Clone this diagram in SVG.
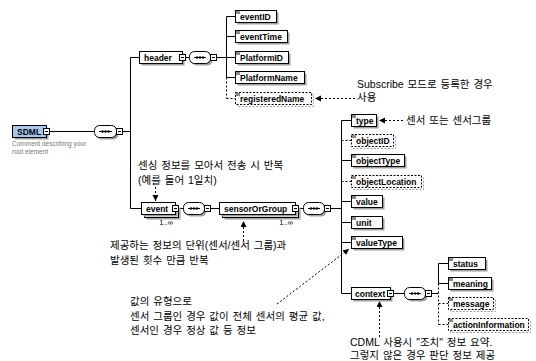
<svg xmlns="http://www.w3.org/2000/svg" width="536" height="361" viewBox="0 0 536 361">
<defs>
<marker id="ah" markerUnits="userSpaceOnUse" markerWidth="7" markerHeight="7" refX="6" refY="3" orient="auto"><path d="M0,0 L6,3 L0,6 z" fill="#000"/></marker>
<style>
.ln{stroke:#000;stroke-width:1;fill:none}
.dl{stroke:#000;stroke-width:1;fill:none;stroke-dasharray:2,2}
.an{stroke:#000;stroke-width:1;fill:none;stroke-dasharray:2,2;marker-end:url(#ah)}
.box{fill:#fff;stroke:#000;stroke-width:1}
.root{fill:#a8c8f0;stroke:#000;stroke-width:1}
.obox{fill:#fff;stroke:#000;stroke-width:1;stroke-dasharray:2,1.5}
.sh{fill:#a0a0a0}
.osh{fill:none;stroke:#a0a0a0;stroke-width:1;stroke-dasharray:2,1.5}
.ic{fill:#8a8a8a}
.lb{font-family:"Liberation Sans",Arial,sans-serif;font-weight:bold;font-size:8.5px;fill:#000}
.kt{font-family:"Liberation Sans","Noto Sans CJK KR",sans-serif;font-size:10.5px;word-spacing:1px;fill:#000}
.occ{font-family:"Liberation Sans",Arial,sans-serif;font-size:7.5px;fill:#000}
.cm{font-family:"Liberation Sans",Arial,sans-serif;font-size:6.5px;fill:#777}
</style>
</defs>

<g id="connectors">
<line class="ln" x1="49.5" y1="131.5" x2="94.5" y2="131.5"/>
<line class="ln" x1="122.5" y1="131.5" x2="130.5" y2="131.5"/>
<line class="ln" x1="130.5" y1="57.5" x2="130.5" y2="208.5"/>
<line class="ln" x1="130.5" y1="57.5" x2="139.5" y2="57.5"/>
<line class="ln" x1="130.5" y1="208.5" x2="141.5" y2="208.5"/>
<line class="ln" x1="185.5" y1="57.5" x2="189.5" y2="57.5"/>
<line class="ln" x1="216.5" y1="57.5" x2="226.5" y2="57.5"/>
<line class="ln" x1="226.5" y1="16.5" x2="226.5" y2="77.5"/>
<line class="dl" x1="226.5" y1="77.5" x2="226.5" y2="98.5"/>
<line class="ln" x1="226.5" y1="16.5" x2="235.5" y2="16.5"/>
<line class="ln" x1="226.5" y1="36.5" x2="235.5" y2="36.5"/>
<line class="ln" x1="226.5" y1="57.5" x2="235.5" y2="57.5"/>
<line class="ln" x1="226.5" y1="77.5" x2="235.5" y2="77.5"/>
<line class="dl" x1="226.5" y1="98.5" x2="235.5" y2="98.5"/>
<line class="ln" x1="178.5" y1="208.5" x2="183.5" y2="208.5"/>
<line class="ln" x1="210.5" y1="208.5" x2="219.5" y2="208.5"/>
<line class="ln" x1="298.5" y1="208.5" x2="303.5" y2="208.5"/>
<line class="ln" x1="330.5" y1="208.5" x2="341.5" y2="208.5"/>
<line class="ln" x1="341.5" y1="120.5" x2="341.5" y2="293.5"/>
<line class="ln" x1="341.5" y1="120.5" x2="351.5" y2="120.5"/>
<line class="dl" x1="341.5" y1="140.5" x2="351.5" y2="140.5"/>
<line class="ln" x1="341.5" y1="160.5" x2="351.5" y2="160.5"/>
<line class="dl" x1="341.5" y1="181.5" x2="351.5" y2="181.5"/>
<line class="ln" x1="341.5" y1="201.5" x2="351.5" y2="201.5"/>
<line class="ln" x1="341.5" y1="222.5" x2="351.5" y2="222.5"/>
<line class="ln" x1="341.5" y1="242.5" x2="351.5" y2="242.5"/>
<line class="ln" x1="341.5" y1="293.5" x2="351.5" y2="293.5"/>
<line class="ln" x1="393.5" y1="293.5" x2="404.5" y2="293.5"/>
<line class="ln" x1="431.5" y1="293.5" x2="438.5" y2="293.5"/>
<line class="ln" x1="438.5" y1="263.5" x2="438.5" y2="283.5"/>
<line class="dl" x1="438.5" y1="283.5" x2="438.5" y2="324.5"/>
<line class="ln" x1="438.5" y1="263.5" x2="448.5" y2="263.5"/>
<line class="ln" x1="438.5" y1="283.5" x2="448.5" y2="283.5"/>
<line class="dl" x1="438.5" y1="303.5" x2="448.5" y2="303.5"/>
<line class="dl" x1="438.5" y1="324.5" x2="448.5" y2="324.5"/>
<line class="an" x1="355" y1="98.5" x2="315" y2="98.5"/>
<line class="an" x1="403" y1="120.5" x2="379" y2="120.5"/>
<line class="an" x1="155.5" y1="187" x2="155.5" y2="201"/>
<line class="an" x1="243.5" y1="241" x2="243.5" y2="221"/>
<line class="an" x1="277" y1="304" x2="349" y2="249"/>
<line class="an" x1="379.5" y1="337" x2="379.5" y2="301"/>
</g>

<g id="SDML">
<rect class="sh" x="14.5" y="127.5" width="34" height="12"/>
<rect class="root" x="12.5" y="125.5" width="34" height="12"/>
<text class="lb" x="17" y="135">SDML</text>
<rect class="box" x="43.5" y="128.5" width="6" height="6"/><line class="ln" x1="45" y1="131.5" x2="48" y2="131.5"/>
<text class="cm" x="12" y="146">Comment describing your</text>
<text class="cm" x="12" y="154">root element</text>
</g>

<g id="seq-root">
<rect class="sh" x="96.5" y="127.5" width="22" height="12" rx="5"/>
<rect class="box" x="94.5" y="125.5" width="22" height="12" rx="5"/>
<line class="ln" x1="99" y1="131.5" x2="112" y2="131.5"/>
<circle cx="102.5" cy="131.5" r="1.2"/><circle cx="105.5" cy="131.5" r="1.2"/><circle cx="108.5" cy="131.5" r="1.2"/>
<rect class="box" x="116.5" y="128.5" width="6" height="6"/><line class="ln" x1="118" y1="131.5" x2="121" y2="131.5"/>
</g>

<g id="header">
<rect class="sh" x="141.5" y="53.5" width="43" height="12"/>
<rect class="box" x="139.5" y="51.5" width="43" height="12"/>
<text class="lb" x="144" y="61">header</text>
<rect class="box" x="179.5" y="54.5" width="6" height="6"/><line class="ln" x1="181" y1="57.5" x2="184" y2="57.5"/>
</g>

<g id="seq-header">
<rect class="sh" x="191.5" y="53.5" width="21" height="12" rx="5"/>
<rect class="box" x="189.5" y="51.5" width="21" height="12" rx="5"/>
<line class="ln" x1="194" y1="57.5" x2="206" y2="57.5"/>
<circle cx="197" cy="57.5" r="1.2"/><circle cx="200" cy="57.5" r="1.2"/><circle cx="203" cy="57.5" r="1.2"/>
<rect class="box" x="210.5" y="54.5" width="6" height="6"/><line class="ln" x1="212" y1="57.5" x2="215" y2="57.5"/>
</g>

<g id="eventID">
<rect class="sh" x="237.5" y="12.5" width="41" height="12"/>
<rect class="box" x="235.5" y="10.5" width="41" height="12"/>
<rect class="ic" x="236" y="11" width="4" height="3"/>
<text class="lb" x="240" y="20">eventID</text>
</g>
<g id="eventTime">
<rect class="sh" x="237.5" y="32.5" width="52" height="12"/>
<rect class="box" x="235.5" y="30.5" width="52" height="12"/>
<rect class="ic" x="236" y="31" width="4" height="3"/>
<text class="lb" x="240" y="40">eventTime</text>
</g>
<g id="PlatformID">
<rect class="sh" x="237.5" y="53.5" width="53" height="12"/>
<rect class="box" x="235.5" y="51.5" width="53" height="12"/>
<rect class="ic" x="236" y="52" width="4" height="3"/>
<text class="lb" x="240" y="61">PlatformID</text>
</g>
<g id="PlatformName">
<rect class="sh" x="237.5" y="73.5" width="69" height="12"/>
<rect class="box" x="235.5" y="71.5" width="69" height="12"/>
<rect class="ic" x="236" y="72" width="4" height="3"/>
<text class="lb" x="240" y="81">PlatformName</text>
</g>
<g id="registeredName">
<rect class="osh" x="237.5" y="94.5" width="76" height="12"/>
<rect class="obox" x="235.5" y="92.5" width="76" height="12"/>
<rect class="ic" x="236" y="93" width="4" height="3"/>
<text class="lb" x="240" y="102">registeredName</text>
</g>

<g id="event">
<rect class="sh" x="146.5" y="207.5" width="34" height="12"/>
<rect class="box" x="144.5" y="205.5" width="34" height="12"/>
<rect class="sh" x="143.5" y="204.5" width="34" height="12"/>
<rect class="box" x="141.5" y="202.5" width="34" height="12"/>
<text class="lb" x="146" y="212">event</text>
<rect class="box" x="172.5" y="205.5" width="6" height="6"/><line class="ln" x1="174" y1="208.5" x2="177" y2="208.5"/>
<text class="occ" x="173" y="225" text-anchor="end">1..∞</text>
</g>

<g id="seq-event">
<rect class="sh" x="185.5" y="204.5" width="21" height="12" rx="5"/>
<rect class="box" x="183.5" y="202.5" width="21" height="12" rx="5"/>
<line class="ln" x1="188" y1="208.5" x2="200" y2="208.5"/>
<circle cx="191" cy="208.5" r="1.2"/><circle cx="194" cy="208.5" r="1.2"/><circle cx="197" cy="208.5" r="1.2"/>
<rect class="box" x="204.5" y="205.5" width="6" height="6"/><line class="ln" x1="206" y1="208.5" x2="209" y2="208.5"/>
</g>

<g id="sensorOrGroup">
<rect class="sh" x="224.5" y="207.5" width="76" height="12"/>
<rect class="box" x="222.5" y="205.5" width="76" height="12"/>
<rect class="sh" x="221.5" y="204.5" width="76" height="12"/>
<rect class="box" x="219.5" y="202.5" width="76" height="12"/>
<text class="lb" x="224" y="212">sensorOrGroup</text>
<rect class="box" x="292.5" y="205.5" width="6" height="6"/><line class="ln" x1="294" y1="208.5" x2="297" y2="208.5"/>
<text class="occ" x="293" y="225" text-anchor="end">1..∞</text>
</g>

<g id="seq-sensor">
<rect class="sh" x="305.5" y="204.5" width="21" height="12" rx="5"/>
<rect class="box" x="303.5" y="202.5" width="21" height="12" rx="5"/>
<line class="ln" x1="308" y1="208.5" x2="320" y2="208.5"/>
<circle cx="311" cy="208.5" r="1.2"/><circle cx="314" cy="208.5" r="1.2"/><circle cx="317" cy="208.5" r="1.2"/>
<rect class="box" x="324.5" y="205.5" width="6" height="6"/><line class="ln" x1="326" y1="208.5" x2="329" y2="208.5"/>
</g>

<g id="type">
<rect class="sh" x="353.5" y="116.5" width="25" height="12"/>
<rect class="box" x="351.5" y="114.5" width="25" height="12"/>
<rect class="ic" x="352" y="115" width="4" height="3"/>
<text class="lb" x="356" y="124">type</text>
</g>
<g id="objectID">
<rect class="osh" x="353.5" y="136.5" width="42" height="12"/>
<rect class="obox" x="351.5" y="134.5" width="42" height="12"/>
<rect class="ic" x="352" y="135" width="4" height="3"/>
<text class="lb" x="356" y="144">objectID</text>
</g>
<g id="objectType">
<rect class="sh" x="353.5" y="156.5" width="53" height="12"/>
<rect class="box" x="351.5" y="154.5" width="53" height="12"/>
<rect class="ic" x="352" y="155" width="4" height="3"/>
<text class="lb" x="356" y="164">objectType</text>
</g>
<g id="objectLocation">
<rect class="osh" x="353.5" y="177.5" width="70" height="12"/>
<rect class="obox" x="351.5" y="175.5" width="70" height="12"/>
<rect class="ic" x="352" y="176" width="4" height="3"/>
<text class="lb" x="356" y="185">objectLocation</text>
</g>
<g id="value">
<rect class="sh" x="353.5" y="197.5" width="31" height="12"/>
<rect class="box" x="351.5" y="195.5" width="31" height="12"/>
<rect class="ic" x="352" y="196" width="4" height="3"/>
<text class="lb" x="356" y="205">value</text>
</g>
<g id="unit">
<rect class="sh" x="353.5" y="218.5" width="31" height="12"/>
<rect class="box" x="351.5" y="216.5" width="31" height="12"/>
<rect class="ic" x="352" y="217" width="4" height="3"/>
<text class="lb" x="356" y="226">unit</text>
</g>
<g id="valueType">
<rect class="sh" x="353.5" y="238.5" width="51" height="12"/>
<rect class="box" x="351.5" y="236.5" width="51" height="12"/>
<rect class="ic" x="352" y="237" width="4" height="3"/>
<text class="lb" x="356" y="246">valueType</text>
</g>
<g id="context">
<rect class="sh" x="353.5" y="289.5" width="39" height="12"/>
<rect class="box" x="351.5" y="287.5" width="39" height="12"/>
<text class="lb" x="355" y="297">context</text>
<rect class="box" x="387.5" y="290.5" width="6" height="6"/><line class="ln" x1="389" y1="293.5" x2="392" y2="293.5"/>
</g>

<g id="seq-context">
<rect class="sh" x="406.5" y="289.5" width="21" height="12" rx="5"/>
<rect class="box" x="404.5" y="287.5" width="21" height="12" rx="5"/>
<line class="ln" x1="409" y1="293.5" x2="421" y2="293.5"/>
<circle cx="412" cy="293.5" r="1.2"/><circle cx="415" cy="293.5" r="1.2"/><circle cx="418" cy="293.5" r="1.2"/>
<rect class="box" x="425.5" y="290.5" width="6" height="6"/><line class="ln" x1="427" y1="293.5" x2="430" y2="293.5"/>
</g>

<g id="status">
<rect class="sh" x="450.5" y="259.5" width="37" height="12"/>
<rect class="box" x="448.5" y="257.5" width="37" height="12"/>
<rect class="ic" x="449" y="258" width="4" height="3"/>
<text class="lb" x="453" y="267">status</text>
</g>
<g id="meaning">
<rect class="sh" x="450.5" y="279.5" width="43" height="12"/>
<rect class="box" x="448.5" y="277.5" width="43" height="12"/>
<rect class="ic" x="449" y="278" width="4" height="3"/>
<text class="lb" x="453" y="287">meaning</text>
</g>
<g id="message">
<rect class="osh" x="450.5" y="299.5" width="45" height="12"/>
<rect class="obox" x="448.5" y="297.5" width="45" height="12"/>
<rect class="ic" x="449" y="298" width="4" height="3"/>
<text class="lb" x="453" y="307">message</text>
</g>
<g id="actionInformation">
<rect class="osh" x="450.5" y="320.5" width="80" height="12"/>
<rect class="obox" x="448.5" y="318.5" width="80" height="12"/>
<rect class="ic" x="449" y="319" width="4" height="3"/>
<text class="lb" x="453" y="328">actionInformation</text>
</g>

<g id="notes">
<text class="kt" x="357" y="88">Subscribe 모드로 등록한 경우</text>
<text class="kt" x="357" y="101">사용</text>
<text class="kt" x="406" y="124">센서 또는 센서그룹</text>
<text class="kt" x="138" y="169">센싱 정보를 모아서 전송 시 반복</text>
<text class="kt" x="138" y="184">(예를 들어 1일치)</text>
<text class="kt" x="110" y="249">제공하는 정보의 단위(센서/센서 그룹)과</text>
<text class="kt" x="110" y="264">발생된 횟수 만큼 반복</text>
<text class="kt" x="130" y="305">값의 유형으로</text>
<text class="kt" x="130" y="320">센서 그룹인 경우 값이 전체 센서의 평균 값,</text>
<text class="kt" x="130" y="334">센서인 경우 정상 값 등 정보</text>
<text class="kt" x="350" y="346">CDML 사용시 "조치" 정보 요약.</text>
<text class="kt" x="350" y="359">그렇지 않은 경우 판단 정보 제공</text>
</g>
</svg>
